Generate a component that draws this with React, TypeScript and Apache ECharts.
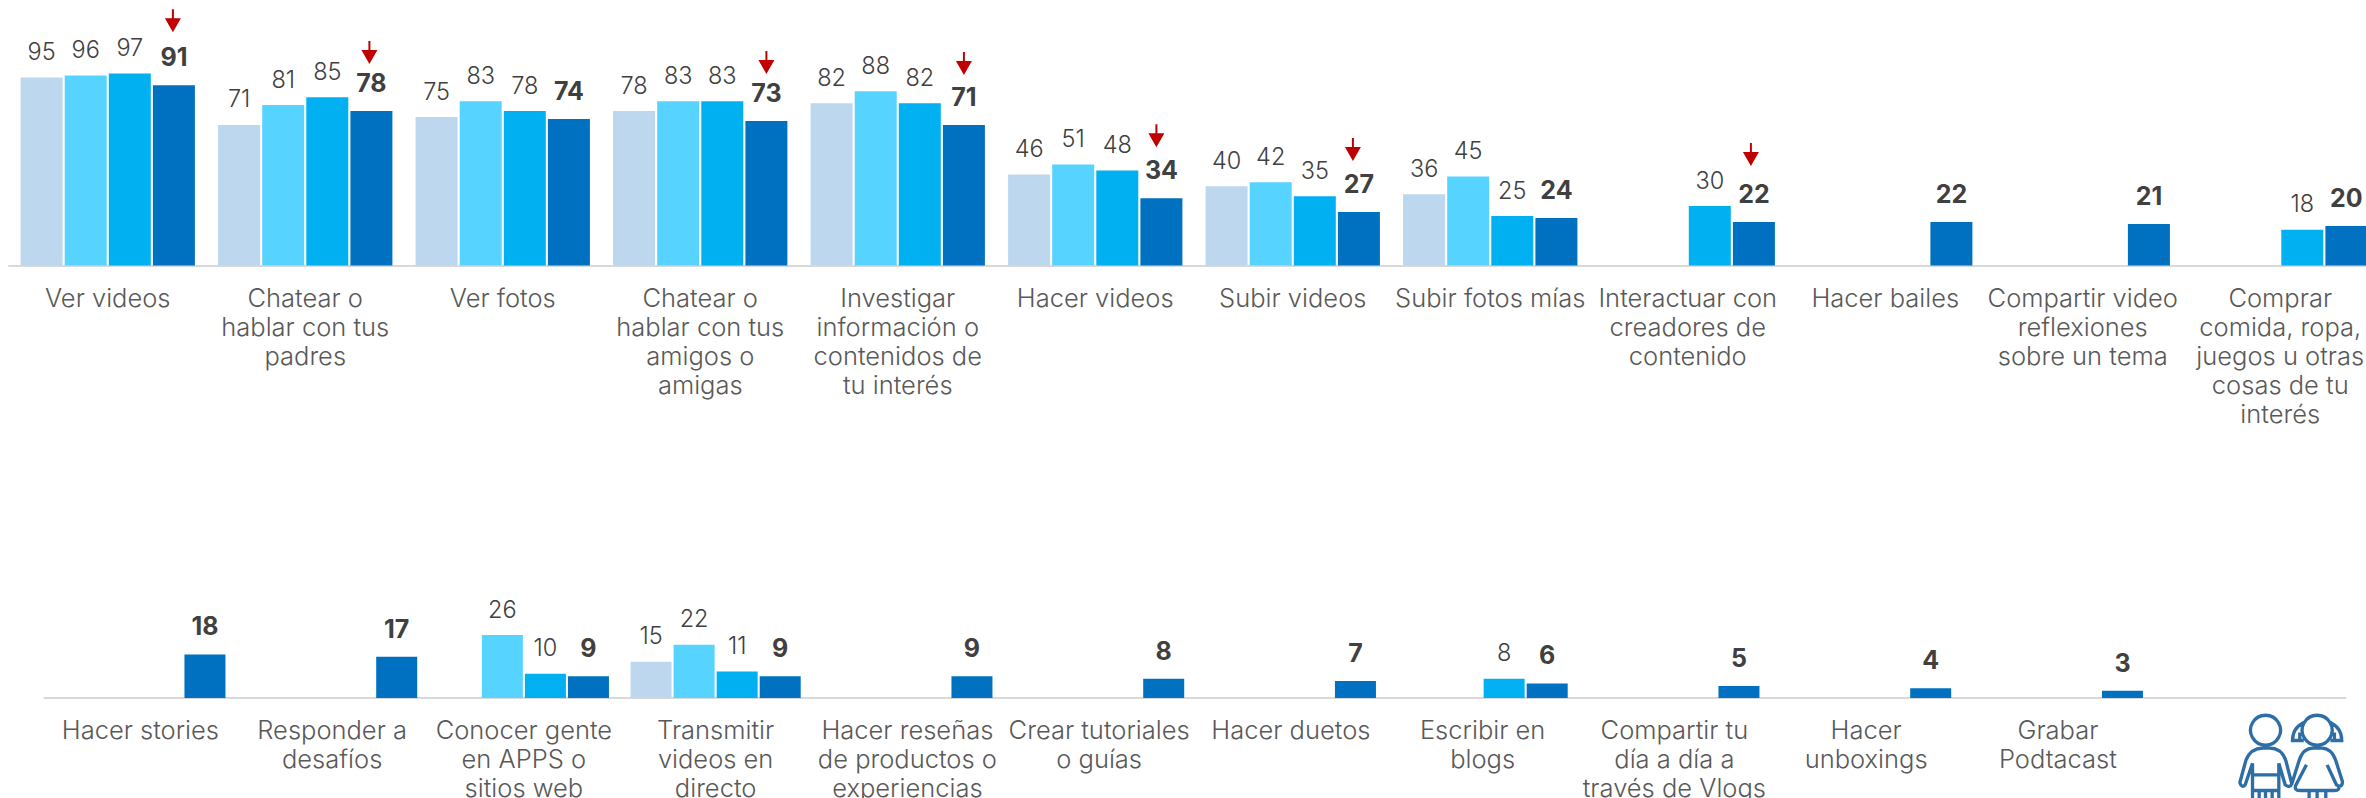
import React, { useEffect, useRef } from "react";
import * as echarts from "echarts";

const categoriesTop = [
  "Ver videos",
  "Chatear o\nhablar con tus\npadres",
  "Ver fotos",
  "Chatear o\nhablar con tus\namigos o\namigas",
  "Investigar\ninformación o\ncontenidos de\ntu interés",
  "Hacer videos",
  "Subir videos",
  "Subir fotos mías",
  "Interactuar con\ncreadores de\ncontenido",
  "Hacer bailes",
  "Compartir video\nreflexiones\nsobre un tema",
  "Comprar\ncomida, ropa,\njuegos u otras\ncosas de tu\ninterés",
];
const top1 = [95, 71, 75, 78, 82, 46, 40, 36, null, null, null, null];
const top2 = [96, 81, 83, 83, 88, 51, 42, 45, null, null, null, null];
const top3 = [97, 85, 78, 83, 82, 48, 35, 25, 30, null, null, 18];
const top4 = [91, 78, 74, 73, 71, 34, 27, 24, 22, 22, 21, 20];
const arrowCategories = [0, 1, 3, 4, 5, 6, 8];

const categoriesBottom = [
  "Hacer stories",
  "Responder a\ndesafíos",
  "Conocer gente\nen APPS o\nsitios web",
  "Transmitir\nvideos en\ndirecto",
  "Hacer reseñas\nde productos o\nexperiencias",
  "Crear tutoriales\no guías",
  "Hacer duetos",
  "Escribir en\nblogs",
  "Compartir tu\ndía a día a\ntravés de Vlogs",
  "Hacer\nunboxings",
  "Grabar\nPodtacast",
  "",
];
const bottom1 = [null, null, null, 15, null, null, null, null, null, null, null, null];
const bottom2 = [null, null, 26, 22, null, null, null, null, null, null, null, null];
const bottom3 = [null, null, 10, 11, null, null, null, 8, null, null, null, null];
const bottom4 = [18, 17, 9, 9, 9, 8, 7, 6, 5, 4, 3, null];

const COLORS = ["#BDD7EE", "#57D3FF", "#00B0F0", "#0070C0"];
const ARROW_LIFT = [53, 47, 47, 50, 51, 51, 56];
const ARROW_SHIFT = [-1, -2, 0, 0, -5, -6, -3];
const FONT = "Inter";
const KIDS =
  "M 497 346 A 45 45 0 1 0 497.1 346 Z " +
  "M 458 490 L 458 598 M 537 490 L 537 598 M 458 525 L 537 525 M 458 572 L 537 572 M 478 572 L 478 598 M 497 572 L 497 598 M 517 572 L 517 598 " +
  "M 458 490 L 436 555 Q 425 566 420 548 L 438 482 Q 452 445 490 445 L 510 445 Q 545 445 558 482 L 576 552 Q 570 566 556 555 L 537 490 " +
  "M 652 346 A 45 45 0 1 0 652.1 346 Z " +
  "M 612 368 Q 578 385 578 422 L 612 422 M 692 368 Q 726 385 726 422 L 692 422 M 600 398 L 600 418 M 704 398 L 704 418 " +
  "M 576 552 L 598 482 Q 610 445 640 445 L 665 445 Q 695 445 708 482 L 728 545 Q 728 566 710 555 L 682 495 " +
  "M 620 495 L 588 556 Q 582 572 600 572 L 704 572 Q 722 572 716 556 M 628 572 L 628 598 M 652 572 L 652 598 M 678 572 L 678 598";

echarts.graphic.registerShape("kids", echarts.graphic.extendPath(KIDS, {}));

const ARROW = "path://M7 0 L9 0 L9 9 L16 9 L8 23 L0 9 L7 9 Z";

function barSeries(
  values: (number | null)[],
  i: number,
  axis: number,
  barWidth: number,
  extra: object = {}
) {
  const last = i === 3;
  return {
    type: "bar",
    xAxisIndex: axis,
    yAxisIndex: axis,
    data: values,
    barWidth,
    barGap: "5%",
    itemStyle: { color: COLORS[i] },
    label: {
      show: true,
      position: "top",
      distance: last ? 15.5 : 14,
      fontFamily: FONT,
      fontSize: last ? 25 : 23.5,
      fontWeight: last ? 700 : 300,
      color: "#404040",
    },
    ...extra,
  };
}

function catAxis(gridIndex: number, data: string[]) {
  return {
    type: "category",
    gridIndex,
    data,
    axisTick: { show: false },
    axisLine: { lineStyle: { color: "#D9D9D9", width: 2 } },
    axisLabel: {
      interval: 0,
      margin: 17,
      lineHeight: 29,
      fontFamily: FONT,
      fontSize: 25.5,
      fontWeight: 300,
      color: "#595959",
      verticalAlign: "top",
    },
  };
}

export default function App() {
  const ref = useRef<HTMLDivElement>(null);
  useEffect(() => {
    if (!ref.current) return;
    const chart = echarts.init(ref.current, undefined, { renderer: "svg" });
    chart.setOption({
      animation: false,
      backgroundColor: "#FFFFFF",
      grid: [
        { left: 9, width: 2370, top: 67.5, height: 198, outerBoundsMode: "none" },
        { left: 44.5, width: 2301, top: 625.4, height: 72.6, outerBoundsMode: "none" },
      ],
      xAxis: [catAxis(0, categoriesTop), catAxis(1, categoriesBottom)],
      yAxis: [
        { type: "value", gridIndex: 0, min: 0, max: 100, show: false },
        { type: "value", gridIndex: 1, min: 0, max: 30, show: false },
      ],
      series: [
        barSeries(top1, 0, 0, 42),
        barSeries(top2, 1, 0, 42),
        barSeries(top3, 2, 0, 42),
        barSeries(top4, 3, 0, 42, {
          markPoint: {
            symbol: ARROW,
            symbolSize: [16, 23],
            label: { show: false },
            itemStyle: { color: "#C00000" },
            silent: true,
            data: arrowCategories.map((c, k) => ({
              coord: [c, top4[c]],
              symbolOffset: [ARROW_SHIFT[k], -(ARROW_LIFT[k] + 11.5)],
            })),
          },
        }),
        barSeries(bottom1, 0, 1, 41),
        barSeries(bottom2, 1, 1, 41),
        barSeries(bottom3, 2, 1, 41),
        barSeries(bottom4, 3, 1, 41),
      ],
      graphic: [
        {
          type: "kids",
          x: 2100,
          y: 600,
          scaleX: 1 / 3,
          scaleY: 1 / 3,
          silent: true,
          style: { fill: "none", stroke: "#2E6EA6", lineWidth: 10 },
        },
      ],
    });
    return () => chart.dispose();
  }, []);
  return (
    <div
      ref={ref}
      style={{ position: "absolute", left: 0, top: 0, width: 2366, height: 798, overflow: "hidden" }}
    />
  );
}
